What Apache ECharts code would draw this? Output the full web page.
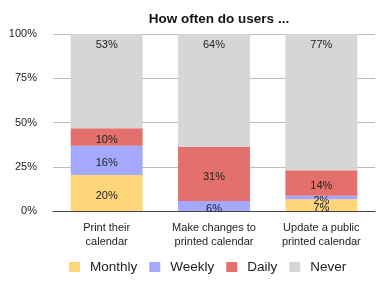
<!DOCTYPE html>
<html><head><meta charset="utf-8">
<script src="https://cdn.jsdelivr.net/npm/echarts@6/dist/echarts.min.js"></script>
<style>html,body{margin:0;padding:0;background:#fff}#c{width:390px;height:285px}</style>
</head><body><div id="c"></div>
<script>
var categories = ['Print their\ncalendar', 'Make changes to\nprinted calendar', 'Update a public\nprinted calendar'];
var monthly = [20.4, 0, 6.6];
var weekly = [16.4, 5.6, 2.0];
var daily = [10.0, 30.6, 14.4];
var never = [53.2, 63.8, 77.0];
var yTicks = [0, 25, 50, 75, 100];
var F = 'Liberation Sans, Arial, Helvetica, sans-serif';
function lbl(extra) {
  var o = {show: true, position: 'inside', offset: [0, 3], color: '#222', fontSize: 11, fontFamily: F,
    formatter: function (p) { return p.value > 0.5 ? Math.round(p.value) + '%' : ''; }};
  for (var k in extra) o[k] = extra[k];
  return o;
}
function ser(name, data, color, lab) {
  return {name: name, type: 'bar', stack: 'a', data: data, barCategoryGap: '33%',
    itemStyle: {color: color}, label: lab, emphasis: {disabled: true}};
}
var chart = echarts.init(document.getElementById('c'), null, {renderer: 'canvas'});
chart.setOption({
  animation: false,
  title: {text: 'How often do users ...', left: 214, textAlign: 'center', top: 7,
    textStyle: {fontSize: 13.5, fontWeight: 'bold', color: '#111', fontFamily: F}},
  grid: {left: 53, right: 15, top: 34, bottom: 74},
  legend: {bottom: 6, left: 64, itemWidth: 11, itemHeight: 10, itemGap: 12, icon: 'rect',
    textStyle: {fontSize: 13.5, color: '#222', fontFamily: F, padding: [0, 0, 0, 5]},
    data: ['Monthly', 'Weekly', 'Daily', 'Never']},
  xAxis: {type: 'category', data: categories,
    axisLine: {lineStyle: {color: '#444', width: 1}}, axisTick: {show: false},
    axisLabel: {color: '#222', fontSize: 11, fontFamily: F, lineHeight: 14, margin: 10, interval: 0}},
  yAxis: {type: 'value', min: yTicks[0], max: yTicks[yTicks.length - 1], interval: 25,
    axisLine: {show: false}, axisTick: {show: false},
    splitLine: {lineStyle: {color: '#bbb', width: 1}},
    axisLabel: {formatter: '{value}%', color: '#222', fontSize: 11, fontFamily: F, margin: 16}},
  series: [
    ser('Monthly', monthly, '#FFD57A', lbl({})),
    ser('Weekly', weekly, '#A5A8FF', lbl({})),
    ser('Daily', daily, '#E3706C', lbl({})),
    ser('Never', never, '#D6D6D6', lbl({position: 'insideTop', distance: 5, offset: [0, 0]}))
  ]
});
</script></body></html>
